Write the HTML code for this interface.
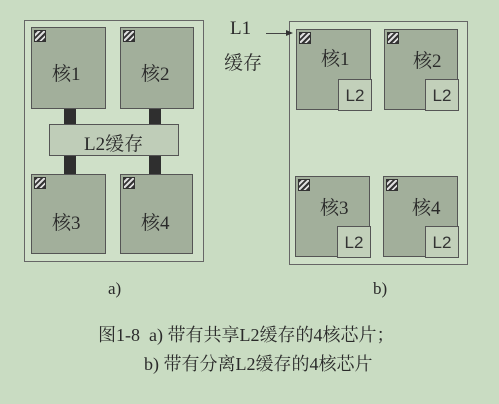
<html><head><style>
body{margin:0;width:499px;height:404px;background:#c9dcc2;position:relative;overflow:hidden;font-family:"Liberation Serif","Noto Serif CJK SC",serif;color:#2a2a2a}
.b{position:absolute;box-sizing:border-box}
.o{border:1.5px solid #666;background:#cfe0c8}
.c{border:1.5px solid #555;background:#a2af9b}
.l2{border:1.5px solid #555;background:#bfcdb8}
.k{position:absolute;box-sizing:border-box;width:12px;height:12px;border:1px solid #333;background:repeating-linear-gradient(135deg,#333 0 2px,#ddd 2px 4px)}
.t{position:absolute;font-size:19px;white-space:nowrap}
.s{position:absolute;font-family:"Liberation Sans",sans-serif;font-size:17px;color:#333}
.bar{position:absolute;background:#2f2f2f}
</style></head><body>
<div class="b o" style="left:24px;top:20px;width:180px;height:242px"></div>
<div class="bar" style="left:64px;top:107px;width:12px;height:70px"></div>
<div class="bar" style="left:149px;top:107px;width:12px;height:70px"></div>
<div class="b c" style="left:31px;top:27px;width:75px;height:82px"><div class="k" style="left:2px;top:2px"></div><span class="t" style="left:20px;top:31px">核1</span></div>
<div class="b c" style="left:120px;top:27px;width:74px;height:82px"><div class="k" style="left:2px;top:2px"></div><span class="t" style="left:20px;top:31px">核2</span></div>
<div class="b l2" style="left:49px;top:124px;width:130px;height:32px"><span class="t" style="left:34px;top:4px">L2缓存</span></div>
<div class="b c" style="left:31px;top:174px;width:75px;height:80px"><div class="k" style="left:2px;top:2px"></div><span class="t" style="left:20px;top:33px">核3</span></div>
<div class="b c" style="left:120px;top:174px;width:73px;height:80px"><div class="k" style="left:2px;top:2px"></div><span class="t" style="left:20px;top:33px">核4</span></div>
<span class="t" style="left:108px;top:279px;font-size:17px">a)</span>

<div class="b o" style="left:289px;top:21px;width:179px;height:244px"></div>
<span class="t" style="left:230px;top:18px">L1</span>
<span class="t" style="left:224px;top:48px">缓存</span>
<div class="bar" style="left:266px;top:33px;width:22px;height:1px;background:#444"></div>
<div style="position:absolute;left:286px;top:30px;width:0;height:0;border-left:7px solid #333;border-top:3px solid transparent;border-bottom:3px solid transparent"></div>
<div class="b c" style="left:296px;top:29px;width:75px;height:81px"><div class="k" style="left:2px;top:2px"></div><span class="t" style="left:24px;top:14px">核1</span><div class="b l2" style="right:-1.5px;bottom:-1.5px;width:34px;height:32px;background:#c2d0ba"><span class="s" style="left:7px;top:6px">L2</span></div></div>
<div class="b c" style="left:384px;top:29px;width:74px;height:81px"><div class="k" style="left:2px;top:2px"></div><span class="t" style="left:28px;top:16px">核2</span><div class="b l2" style="right:-1.5px;bottom:-1.5px;width:34px;height:32px;background:#c2d0ba"><span class="s" style="left:7px;top:6px">L2</span></div></div>
<div class="b c" style="left:295px;top:176px;width:75px;height:81px"><div class="k" style="left:2px;top:2px"></div><span class="t" style="left:24px;top:16px">核3</span><div class="b l2" style="right:-1.5px;bottom:-1.5px;width:34px;height:32px;background:#c2d0ba"><span class="s" style="left:7px;top:6px">L2</span></div></div>
<div class="b c" style="left:383px;top:176px;width:75px;height:81px"><div class="k" style="left:2px;top:2px"></div><span class="t" style="left:28px;top:16px">核4</span><div class="b l2" style="right:-1.5px;bottom:-1.5px;width:34px;height:32px;background:#c2d0ba"><span class="s" style="left:7px;top:6px">L2</span></div></div>
<span class="t" style="left:373px;top:279px;font-size:17px">b)</span>

<span class="t" style="left:98px;top:321px;font-size:18px">图1-8&nbsp; a) 带有共享L2缓存的4核芯片；</span>
<span class="t" style="left:144px;top:350px;font-size:18px">b) 带有分离L2缓存的4核芯片</span>
</body></html>
